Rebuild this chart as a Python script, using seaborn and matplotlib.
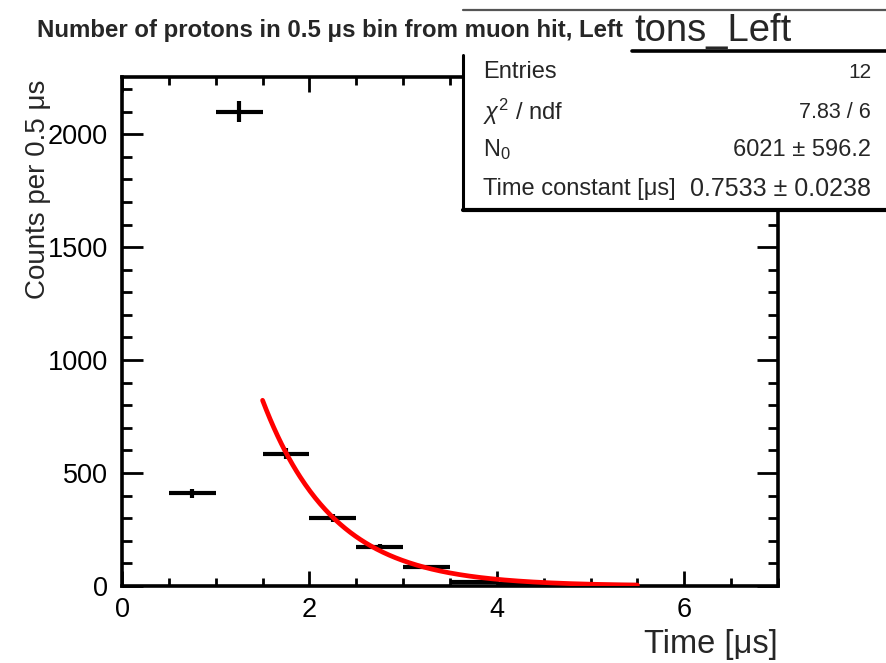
import numpy as np
import pandas as pd
import matplotlib
matplotlib.use("Agg")
import matplotlib.pyplot as plt
from matplotlib.patches import Rectangle
from matplotlib.lines import Line2D
import seaborn as sns

# Histogram: proton counts per 0.5 us bin after the muon hit
bin_centers = [0.75, 1.25, 1.75, 2.25, 2.75, 3.25, 3.75, 4.25, 4.75, 5.25]
bin_counts = [410, 2100, 585, 301, 174, 85, 19, 9, 5, 3]
bin_half_width = 0.25

# Exponential fit N(t) = N0 * exp(-t / tau) over [1.5, 5.5] us
fit_n0 = 6021.0
fit_tau = 0.7533
fit_range = (1.5, 5.5)

stats_labels = ["Entries", "$\\chi^{2}$ / ndf", "N$_{0}$", "Time constant [\u03bcs]"]
stats_values = ["12", "7.83 / 6", "6021 \u00b1 596.2", "0.7533 \u00b1 0.0238"]

sns.set_theme(style="ticks")
plt.rcParams["font.family"] = ["Liberation Sans", "DejaVu Sans"]
plt.rcParams["mathtext.fontset"] = "custom"
plt.rcParams["mathtext.rm"] = "Liberation Sans"
plt.rcParams["mathtext.it"] = "Liberation Sans:italic"

W, H = 886, 663
fig = plt.figure(figsize=(W / 100, H / 100), dpi=100)
fig.patch.set_facecolor("white")

def fx(px):
    return px / W

def fy(py):
    return 1 - py / H

ax = fig.add_axes([fx(122), fy(586), fx(778) - fx(122), fy(77) - fy(586)])
ax.set_facecolor("white")

counts = np.asarray(bin_counts, dtype=float)
ax.errorbar(bin_centers, counts, xerr=bin_half_width, yerr=np.sqrt(counts),
            fmt="none", ecolor="black", elinewidth=3.0, capsize=0, zorder=3)

t_fit = np.linspace(fit_range[0], fit_range[1], 300)
fit_df = pd.DataFrame({"t": t_fit, "n": fit_n0 * np.exp(-t_fit / fit_tau)})
sns.lineplot(data=fit_df, x="t", y="n", color="#ff0000", lw=3.4, ax=ax, zorder=4)

ax.set_xlim(0, 7)
ax.set_ylim(0, 2253)
ax.set_xticks([0, 2, 4, 6])
ax.set_xticks(np.arange(0, 7.01, 0.5), minor=True)
ax.set_yticks([0, 500, 1000, 1500, 2000])
ax.set_yticks(np.arange(0, 2253, 100), minor=True)
ax.set_xlabel("")
ax.set_ylabel("")

for side in ["left", "right", "top", "bottom"]:
    ax.spines[side].set_visible(True)
    ax.spines[side].set_linewidth(2.6)
    ax.spines[side].set_color("black")

ax.tick_params(axis="both", which="both", direction="in", top=True, right=True,
               colors="black", width=2.0)
ax.tick_params(axis="x", which="major", length=11, labelsize=19.5, pad=8)
ax.tick_params(axis="x", which="minor", length=5.5)
ax.tick_params(axis="y", which="major", length=15, labelsize=19.5, pad=10)
ax.tick_params(axis="y", which="minor", length=7.5)

# Axis titles placed at the axis ends
fig.text(fx(778), fy(645), "Time [\u03bcs]", ha="right", va="center", fontsize=23.5)
fig.text(fx(38), fy(80), "Counts per 0.5 \u03bcs", rotation=90, ha="center",
         va="top", fontsize=20)

# Statistics box
box_left, box_top, box_bottom = 463, 10, 210
fig.patches.append(Rectangle((fx(box_left), fy(box_bottom)), fx(W + 20) - fx(box_left),
                             fy(box_top) - fy(box_bottom), transform=fig.transFigure,
                             facecolor="white", edgecolor="none", zorder=5))
fig.lines.append(Line2D([fx(box_left), 1.0], [fy(box_top), fy(box_top)],
                        transform=fig.transFigure, color="#555555", lw=1.6, zorder=6))
fig.lines.append(Line2D([fx(632), 1.0], [fy(51), fy(51)],
                        transform=fig.transFigure, color="black", lw=2.6, zorder=6))
fig.lines.append(Line2D([fx(box_left), fx(box_left)], [fy(55), fy(box_bottom)],
                        transform=fig.transFigure, color="black", lw=2.2, zorder=6))
fig.lines.append(Line2D([fx(box_left), 1.0], [fy(box_bottom), fy(box_bottom)],
                        transform=fig.transFigure, color="black", lw=3.0, zorder=6))

fig.text(fx(634), fy(31), "tons_Left", ha="left", va="center", fontsize=27.5, zorder=7)

row_y = [72, 112, 150, 189]
label_sizes = [17, 17, 17, 17]
value_sizes = [15, 15.5, 17, 18]
for y, lab, val, ls, vs in zip(row_y, stats_labels, stats_values, label_sizes, value_sizes):
    fig.text(fx(483), fy(y), lab, ha="left", va="center", fontsize=ls, zorder=7)
    fig.text(fx(871), fy(y), val, ha="right", va="center", fontsize=vs, zorder=7)

# Histogram title
fig.text(fx(37), fy(31), "Number of protons in 0.5 \u03bcs bin from muon hit, Left",
         ha="left", va="center", fontsize=17.3, fontweight="bold", zorder=8)

fig.savefig("out.png", dpi=100, facecolor="white")
